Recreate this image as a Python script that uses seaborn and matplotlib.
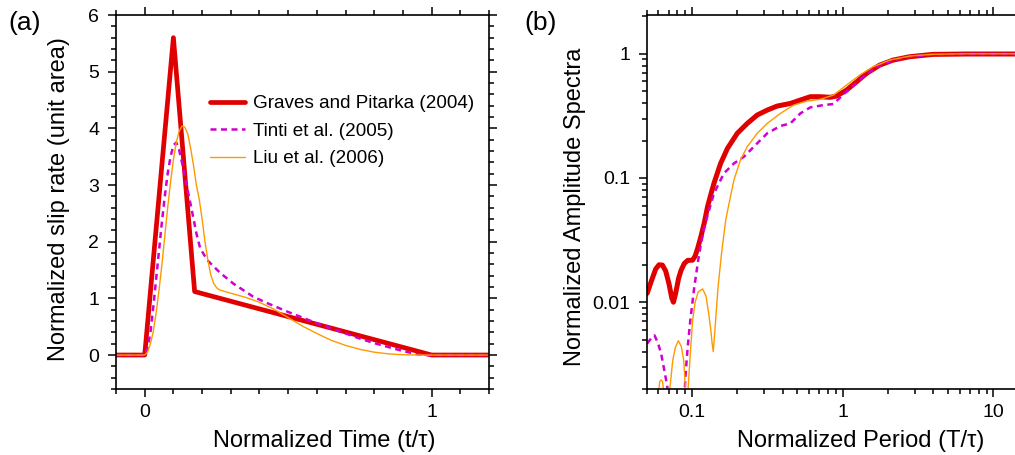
import matplotlib
matplotlib.use("Agg")
import matplotlib.pyplot as plt
import matplotlib.ticker as mticker
import seaborn as sns
import numpy as np
import pandas as pd

# ---------------- data: panel (a) slip-rate functions ----------------
t_gp = [-0.1, 0.0, 0.1, 0.174, 1.0, 1.2]
v_gp = [0.0, 0.0, 5.6, 1.12, 0.0, 0.0]

t_tinti = [-0.1, 0.0, 0.01, 0.02, 0.03, 0.04, 0.05, 0.06, 0.07, 0.08, 0.09, 0.1,
           0.11, 0.12, 0.133, 0.147, 0.164, 0.18, 0.193, 0.217, 0.263, 0.309,
           0.378, 0.425, 0.5, 0.55, 0.6, 0.65, 0.7, 0.75, 0.8, 0.85, 0.9, 0.95,
           0.97, 1.2]
v_tinti = [0.0, 0.0, 0.12, 0.4, 0.85, 1.35, 1.85, 2.35, 2.8, 3.2, 3.5, 3.7,
           3.75, 3.62, 3.33, 2.97, 2.56, 2.15, 1.89, 1.68, 1.45, 1.26,
           1.03, 0.92, 0.76, 0.66, 0.56, 0.47, 0.38, 0.29, 0.21, 0.14, 0.07, 0.015,
           0.0, 0.0]

t_liu = [-0.1, 0.0, 0.01, 0.02, 0.03, 0.04, 0.05, 0.06, 0.07, 0.08, 0.09, 0.1,
         0.11, 0.12, 0.13, 0.14, 0.15, 0.16, 0.17, 0.18, 0.19, 0.2, 0.21, 0.22,
         0.23, 0.24, 0.25, 0.26, 0.3, 0.35, 0.4, 0.45, 0.5, 0.55, 0.6, 0.65, 0.7,
         0.75, 0.8, 0.85, 0.9, 0.95, 1.2]
v_liu = [0.0, 0.0, 0.05, 0.2, 0.42, 0.75, 1.15, 1.6, 2.1, 2.6, 3.05, 3.45,
         3.75, 3.95, 4.04, 4.02, 3.9, 3.65, 3.35, 3.0, 2.75, 2.4, 2.0, 1.68,
         1.42, 1.27, 1.19, 1.15, 1.09, 1.02, 0.93, 0.81, 0.66, 0.51, 0.38, 0.26, 0.17,
         0.1, 0.05, 0.02, 0.005, 0.0, 0.0]

# ---------------- data: panel (b) amplitude spectra ----------------
T_gp = [0.0505, 0.054, 0.0575, 0.0605, 0.0637, 0.067, 0.0705, 0.0735, 0.0754,
        0.078, 0.0815, 0.0846, 0.089, 0.0937, 0.101, 0.105, 0.109, 0.1145, 0.1205,
        0.127, 0.134, 0.14, 0.155, 0.172, 0.2, 0.233, 0.271, 0.316, 0.367, 0.45,
        0.524, 0.61, 0.71, 0.826, 0.913, 1.06, 1.24, 1.44, 1.76, 2.16, 2.78, 3.96,
        6.6, 14.0]
A_gp = [0.0118, 0.015, 0.0185, 0.02, 0.0199, 0.0178, 0.014, 0.0108, 0.01,
        0.0118, 0.0155, 0.018, 0.0205, 0.0217, 0.0218, 0.0235, 0.027, 0.0335, 0.043,
        0.0589, 0.075, 0.0906, 0.131, 0.173, 0.229, 0.275, 0.321, 0.352, 0.379, 0.398,
        0.424, 0.451, 0.451, 0.446, 0.457, 0.51, 0.596, 0.695, 0.81, 0.889, 0.946, 0.988,
        0.995, 0.995]

T_tinti = [0.0505, 0.0535, 0.0565, 0.0595, 0.0625, 0.065, 0.0675, 0.0695, 0.072,
           0.088, 0.0905, 0.0937, 0.0975, 0.1036, 0.1117, 0.1205, 0.127, 0.14, 0.163,
           0.19, 0.221, 0.258, 0.316, 0.386, 0.45, 0.524, 0.61, 0.746, 0.869, 1.0,
           1.24, 1.44, 1.76, 2.16, 2.78, 3.96, 6.6, 14.0]
A_tinti = [0.00465, 0.0051, 0.0054, 0.0047, 0.00384, 0.003, 0.00234, 0.0019, 0.0012,
           0.0012, 0.0025, 0.00434, 0.0071, 0.0132, 0.0246, 0.04, 0.05, 0.0753, 0.109,
           0.131, 0.148, 0.179, 0.229, 0.262, 0.275, 0.331, 0.37, 0.386, 0.394, 0.465,
           0.585, 0.69, 0.8, 0.885, 0.945, 0.985, 0.995, 0.995]

T_liu = [0.0505, 0.059, 0.06, 0.0612, 0.0625, 0.0638, 0.065, 0.066, 0.0705, 0.0716,
         0.0746, 0.0775, 0.0813, 0.085, 0.0882, 0.0903, 0.0915, 0.0935, 0.0945, 0.0975,
         0.101, 0.105, 0.11, 0.1175, 0.124, 0.129, 0.1334, 0.136, 0.1385, 0.141, 0.144,
         0.149, 0.157, 0.1675, 0.172, 0.19, 0.21, 0.233, 0.271, 0.316, 0.386, 0.473,
         0.58, 0.71, 0.869, 1.06, 1.3, 1.59, 2.05, 2.78, 3.96, 6.6, 14.0]
A_liu = [0.0012, 0.0012, 0.0019, 0.0023, 0.00237, 0.0023, 0.0019, 0.0012, 0.0012, 0.0021,
         0.0034, 0.0043, 0.0049, 0.0044, 0.0034, 0.0021, 0.0012, 0.0012, 0.0021, 0.00385,
         0.0071, 0.01, 0.0121, 0.0128, 0.0112, 0.0082, 0.006, 0.0047, 0.004, 0.0053, 0.0075,
         0.0132, 0.0245, 0.0457, 0.054, 0.0964, 0.14, 0.179, 0.229, 0.275, 0.331, 0.386,
         0.416, 0.43, 0.465, 0.56, 0.674, 0.785, 0.889, 0.958, 0.99, 1.0, 1.0]

labels = ["Graves and Pitarka (2004)", "Tinti et al. (2005)", "Liu et al. (2006)"]

# ---------------- style ----------------
sns.set_style("ticks")
plt.rcParams["font.family"] = ["Liberation Sans", "DejaVu Sans"]
plt.rcParams["axes.linewidth"] = 1.2
for k in ("text.color", "axes.labelcolor", "xtick.color", "ytick.color", "axes.edgecolor"):
    plt.rcParams[k] = "black"

RED = "#e00000"
MAG = "#d000d0"
ORG = "#ff9900"

fig = plt.figure(figsize=(10.15, 4.55), dpi=100)
ax1 = fig.add_axes([0.1143, 0.145, 0.3675, 0.822])
ax2 = fig.add_axes([0.637, 0.145, 0.363, 0.822])

# ---------------- panel (a) ----------------
sns.lineplot(x=t_gp, y=v_gp, ax=ax1, color=RED, lw=3.4, sort=False,
             estimator=None, label=labels[0])
sns.lineplot(x=t_tinti, y=v_tinti, ax=ax1, color=MAG, lw=1.8, sort=False,
             estimator=None, label=labels[1])
ax1.lines[-1].set_dashes((2.4, 1.8))
sns.lineplot(x=t_liu, y=v_liu, ax=ax1, color=ORG, lw=1.0, sort=False,
             estimator=None, label=labels[2])

ax1.set_xlim(-0.1, 1.2)
ax1.set_ylim(-0.6, 6)
ax1.xaxis.set_major_locator(mticker.FixedLocator([0, 1]))
ax1.xaxis.set_major_formatter(mticker.FixedFormatter(["0", "1"]))
ax1.xaxis.set_minor_locator(mticker.MultipleLocator(0.1))
ax1.yaxis.set_major_locator(mticker.MultipleLocator(1))
ax1.yaxis.set_minor_locator(mticker.MultipleLocator(0.2))
ax1.set_xlabel("Normalized Time (t/τ)", fontsize=17)
ax1.set_ylabel("Normalized slip rate (unit area)", fontsize=17)
ax1.xaxis.set_label_coords(0.558, -0.11)
ax1.yaxis.set_label_coords(-0.123, 0.508)

leg = ax1.legend(loc="upper left", bbox_to_anchor=(0.252, 0.786), frameon=False,
                 fontsize=13.6, handlelength=1.85, handletextpad=0.4,
                 labelspacing=0.55, borderpad=0, borderaxespad=0)
for txt in leg.get_texts():
    txt.set_color("black")

# ---------------- panel (b) ----------------
sns.lineplot(x=T_gp, y=A_gp, ax=ax2, color=RED, lw=3.6, sort=False, estimator=None)
sns.lineplot(x=T_tinti, y=A_tinti, ax=ax2, color=MAG, lw=1.8, sort=False, estimator=None)
ax2.lines[-1].set_dashes((2.4, 1.8))
sns.lineplot(x=T_liu, y=A_liu, ax=ax2, color=ORG, lw=1.0, sort=False, estimator=None)

ax2.set_xscale("log")
ax2.set_yscale("log")
ax2.set_xlim(0.05, 13.9)
ax2.set_ylim(0.002, 2.05)
ax2.xaxis.set_major_locator(mticker.FixedLocator([0.1, 1, 10]))
ax2.xaxis.set_major_formatter(mticker.FixedFormatter(["0.1", "1", "10"]))
ax2.xaxis.set_minor_locator(mticker.LogLocator(base=10, subs=np.arange(2, 10)))
ax2.xaxis.set_minor_formatter(mticker.NullFormatter())
ax2.yaxis.set_major_locator(mticker.FixedLocator([0.01, 0.1, 1]))
ax2.yaxis.set_major_formatter(mticker.FixedFormatter(["0.01", "0.1", "1"]))
ax2.yaxis.set_minor_locator(mticker.LogLocator(base=10, subs=np.arange(2, 10)))
ax2.yaxis.set_minor_formatter(mticker.NullFormatter())
ax2.set_xlabel("Normalized Period (T/τ)", fontsize=17)
ax2.set_ylabel("Normalized Amplitude Spectra", fontsize=17)
ax2.xaxis.set_label_coords(0.58, -0.11)
ax2.yaxis.set_label_coords(-0.165, 0.487)
ax2.spines["right"].set_visible(False)

for ax, right in ((ax1, True), (ax2, False)):
    ax.tick_params(which="both", direction="out", top=True, right=right,
                   labelsize=14, width=1.1, color="black", labelcolor="black")
    ax.tick_params(which="major", length=6)
    ax.tick_params(which="minor", length=3.5)
    ax.tick_params(axis="x", which="both", pad=5)
    ax.tick_params(axis="y", which="both", pad=6)
    for s in ax.spines.values():
        s.set_color("black")
    ax.xaxis.label.set_color("black")
    ax.yaxis.label.set_color("black")

fig.text(0.008, 0.975, "(a)", fontsize=19, va="top", ha="left", color="black")
fig.text(0.517, 0.975, "(b)", fontsize=19, va="top", ha="left", color="black")

fig.savefig("out.png", dpi=100)
